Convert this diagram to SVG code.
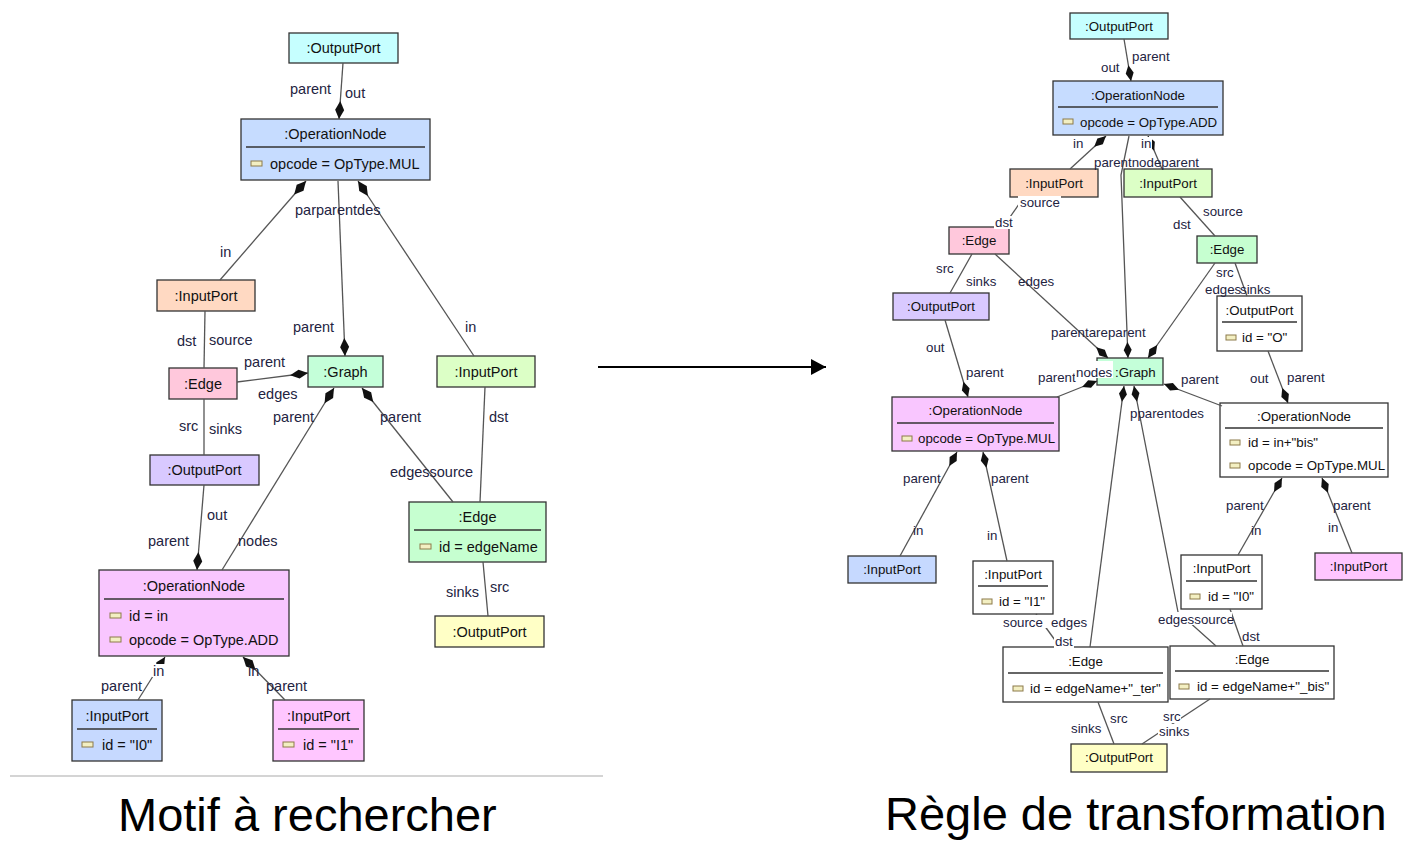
<svg xmlns="http://www.w3.org/2000/svg" width="1409" height="841" viewBox="0 0 1409 841">
<defs>
<style>
.n rect.b{stroke:#333;stroke-width:1.3}
.t{font-family:"Liberation Sans",Arial,sans-serif;font-size:14.5px;fill:#111}
.tr{font-family:"Liberation Sans",Arial,sans-serif;font-size:13.3px;fill:#111}
.m{text-anchor:middle}
.sep{stroke:#333;stroke-width:1.3}
.ic{fill:#f3efc2;stroke:#8c7a4a;stroke-width:1}
.c{stroke:#555;stroke-width:1.3;fill:none}
.dl{marker-end:url(#dl)}
.ds{marker-end:url(#ds)}
.l{font-family:"Liberation Sans",Arial,sans-serif;font-size:14.5px;fill:#23233f}
.lr{font-family:"Liberation Sans",Arial,sans-serif;font-size:13.3px;fill:#23233f}
.bg{fill:#fff}
.cap{font-family:"Liberation Sans",Arial,sans-serif;font-size:47px;fill:#000}
</style>
<marker id="dl" markerUnits="userSpaceOnUse" orient="auto" markerWidth="20" markerHeight="10" refX="0" refY="0" style="overflow:visible"><path d="M0,0 L-9,-4.5 L-18,0 L-9,4.5 Z" fill="#111"/></marker>
<marker id="ds" markerUnits="userSpaceOnUse" orient="auto" markerWidth="18" markerHeight="9" refX="0" refY="0" style="overflow:visible"><path d="M0,0 L-8,-4 L-16,0 L-8,4 Z" fill="#111"/></marker>
<marker id="ar" markerUnits="userSpaceOnUse" orient="auto" markerWidth="16" markerHeight="16" refX="0" refY="0" style="overflow:visible"><path d="M-15,-8 L0,0 L-15,8 Z" fill="#000"/></marker>
</defs>
<rect width="1409" height="841" fill="#fff"/>

<!-- LEFT NODES -->
<g id="L-OutputPort-top" class="n"><rect class="b" x="289" y="33" width="109" height="30" fill="#c6ffff"/><text class="t m" x="343.5" y="53">:OutputPort</text></g>
<g id="L-OperationNode-MUL" class="n"><rect class="b" x="241" y="119" width="189" height="61" fill="#c6dcff"/><text class="t m" x="335.5" y="139">:OperationNode</text><line class="sep" x1="246" y1="147" x2="425" y2="147"/><rect class="ic" x="251" y="161" width="11" height="5"/><text class="t" x="270" y="169">opcode = OpType.MUL</text></g>
<g id="L-InputPort-orange" class="n"><rect class="b" x="157" y="280" width="98" height="31" fill="#ffd9c2"/><text class="t m" x="206" y="301">:InputPort</text></g>
<g id="L-Edge-pink" class="n"><rect class="b" x="169" y="368" width="68" height="31" fill="#ffc8dc"/><text class="t m" x="203" y="389">:Edge</text></g>
<g id="L-Graph" class="n"><rect class="b" x="308" y="356" width="75" height="31" fill="#c4ffd9"/><text class="t m" x="345.5" y="377">:Graph</text></g>
<g id="L-InputPort-green" class="n"><rect class="b" x="437" y="356" width="98" height="31" fill="#dcffc6"/><text class="t m" x="486" y="377">:InputPort</text></g>
<g id="L-OutputPort-purple" class="n"><rect class="b" x="150" y="455" width="109" height="30" fill="#d9c9ff"/><text class="t m" x="204.5" y="475">:OutputPort</text></g>
<g id="L-OperationNode-ADD" class="n"><rect class="b" x="99" y="570" width="190" height="86" fill="#f9c6ff"/><text class="t m" x="194" y="591">:OperationNode</text><line class="sep" x1="104" y1="599" x2="284" y2="599"/><rect class="ic" x="110" y="613" width="11" height="5"/><text class="t" x="129" y="621">id = in</text><rect class="ic" x="110" y="637" width="11" height="5"/><text class="t" x="129" y="645">opcode = OpType.ADD</text></g>
<g id="L-Edge-green" class="n"><rect class="b" x="409" y="502" width="137" height="60" fill="#c6ffd0"/><text class="t m" x="477.5" y="522">:Edge</text><line class="sep" x1="414" y1="530" x2="541" y2="530"/><rect class="ic" x="420" y="544" width="11" height="5"/><text class="t" x="439" y="552">id = edgeName</text></g>
<g id="L-OutputPort-yellow" class="n"><rect class="b" x="435" y="616" width="109" height="31" fill="#ffffc6"/><text class="t m" x="489.5" y="637">:OutputPort</text></g>
<g id="L-InputPort-I0" class="n"><rect class="b" x="72" y="700" width="90" height="61" fill="#c6d9ff"/><text class="t m" x="117" y="721">:InputPort</text><line class="sep" x1="77" y1="729" x2="157" y2="729"/><rect class="ic" x="82" y="742" width="11" height="5"/><text class="t" x="102" y="750">id = "I0"</text></g>
<g id="L-InputPort-I1" class="n"><rect class="b" x="273" y="700" width="91" height="61" fill="#ffc6ff"/><text class="t m" x="318.5" y="721">:InputPort</text><line class="sep" x1="278" y1="729" x2="359" y2="729"/><rect class="ic" x="283" y="742" width="11" height="5"/><text class="t" x="303" y="750">id = "I1"</text></g>

<!-- RIGHT NODES -->
<g id="R-OutputPort-top" class="n"><rect class="b" x="1070" y="13" width="98" height="26" fill="#c6ffff"/><text class="tr m" x="1119" y="31">:OutputPort</text></g>
<g id="R-OperationNode-ADD" class="n"><rect class="b" x="1053" y="81" width="170" height="54" fill="#c6dcff"/><text class="tr m" x="1138" y="99.5">:OperationNode</text><line class="sep" x1="1058" y1="107" x2="1218" y2="107"/><rect class="ic" x="1063" y="119" width="10" height="5"/><text class="tr" x="1080" y="126.5">opcode = OpType.ADD</text></g>
<g id="R-InputPort-orange" class="n"><rect class="b" x="1010" y="169" width="88" height="28" fill="#ffd9c2"/><text class="tr m" x="1054" y="188">:InputPort</text></g>
<g id="R-InputPort-green" class="n"><rect class="b" x="1124" y="169" width="88" height="28" fill="#dcffc6"/><text class="tr m" x="1168" y="188">:InputPort</text></g>
<g id="R-Edge-pink" class="n"><rect class="b" x="949" y="227" width="60" height="27" fill="#ffc8dc"/><text class="tr m" x="979" y="245">:Edge</text></g>
<g id="R-Edge-green" class="n"><rect class="b" x="1197" y="236" width="60" height="27" fill="#c6ffd0"/><text class="tr m" x="1227" y="254">:Edge</text></g>
<g id="R-OutputPort-purple" class="n"><rect class="b" x="893" y="293" width="96" height="27" fill="#d9c9ff"/><text class="tr m" x="941" y="311">:OutputPort</text></g>
<g id="R-OutputPort-O" class="n"><rect class="b" x="1217" y="296" width="85" height="55" fill="#fff"/><text class="tr m" x="1259.5" y="314.5">:OutputPort</text><line class="sep" x1="1222" y1="322" x2="1297" y2="322"/><rect class="ic" x="1226" y="335" width="10" height="5"/><text class="tr" x="1242" y="341.5">id = "O"</text></g>
<g id="R-Graph" class="n"><rect class="b" x="1097" y="358" width="66" height="27" fill="#c4ffd9"/><text class="tr" x="1115" y="376.5">:Graph</text></g>
<g id="R-OperationNode-MUL" class="n"><rect class="b" x="892" y="397" width="167" height="54" fill="#f9c6ff"/><text class="tr m" x="975.5" y="414.5">:OperationNode</text><line class="sep" x1="897" y1="423" x2="1054" y2="423"/><rect class="ic" x="902" y="436" width="10" height="5"/><text class="tr" x="918" y="442.5">opcode = OpType.MUL</text></g>
<g id="R-OperationNode-bis" class="n"><rect class="b" x="1220" y="403" width="168" height="74" fill="#fff"/><text class="tr m" x="1304" y="420.5">:OperationNode</text><line class="sep" x1="1225" y1="428" x2="1383" y2="428"/><rect class="ic" x="1230" y="440" width="10" height="5"/><text class="tr" x="1248" y="446.5">id = in+"bis"</text><rect class="ic" x="1230" y="463" width="10" height="5"/><text class="tr" x="1248" y="469.5">opcode = OpType.MUL</text></g>
<g id="R-InputPort-blue" class="n"><rect class="b" x="848" y="556" width="88" height="27" fill="#c6d9ff"/><text class="tr m" x="892" y="574">:InputPort</text></g>
<g id="R-InputPort-I1" class="n"><rect class="b" x="973" y="561" width="80" height="53" fill="#fff"/><text class="tr m" x="1013" y="578.5">:InputPort</text><line class="sep" x1="978" y1="586" x2="1048" y2="586"/><rect class="ic" x="982" y="599" width="10" height="5"/><text class="tr" x="999" y="605.5">id = "I1"</text></g>
<g id="R-InputPort-I0" class="n"><rect class="b" x="1181" y="555" width="81" height="54" fill="#fff"/><text class="tr m" x="1221.5" y="572.5">:InputPort</text><line class="sep" x1="1186" y1="581" x2="1257" y2="581"/><rect class="ic" x="1190" y="594" width="10" height="5"/><text class="tr" x="1208" y="600.5">id = "I0"</text></g>
<g id="R-InputPort-pink" class="n"><rect class="b" x="1315" y="553" width="87" height="27" fill="#ffc6ff"/><text class="tr m" x="1358.5" y="571">:InputPort</text></g>
<g id="R-Edge-ter" class="n"><rect class="b" x="1003" y="647" width="165" height="55" fill="#fff"/><text class="tr m" x="1085.5" y="665.5">:Edge</text><line class="sep" x1="1008" y1="673" x2="1163" y2="673"/><rect class="ic" x="1013" y="686" width="10" height="5"/><text class="tr" x="1030" y="692.5">id = edgeName+"_ter"</text></g>
<g id="R-Edge-bis" class="n"><rect class="b" x="1170" y="646" width="164" height="53" fill="#fff"/><text class="tr m" x="1252" y="663.5">:Edge</text><line class="sep" x1="1175" y1="671" x2="1329" y2="671"/><rect class="ic" x="1179" y="684" width="10" height="5"/><text class="tr" x="1197" y="690.5">id = edgeName+"_bis"</text></g>
<g id="R-OutputPort-yellow" class="n"><rect class="b" x="1071" y="744" width="96" height="28" fill="#ffffc6"/><text class="tr m" x="1119" y="762">:OutputPort</text></g>

<!-- CONNECTORS -->
<g id="connectors">
<!-- left -->
<line class="c dl" x1="343" y1="63" x2="339" y2="119"/>
<line class="c dl" x1="220" y1="280" x2="306" y2="181"/>
<line class="c dl" x1="338" y1="181" x2="345" y2="356"/>
<line class="c dl" x1="474" y1="356" x2="358" y2="181"/>
<line class="c" x1="205" y1="311" x2="204" y2="368"/>
<line class="c dl" x1="237" y1="382" x2="308" y2="373"/>
<line class="c" x1="204" y1="399" x2="204" y2="455"/>
<line class="c dl" x1="204" y1="485" x2="197" y2="570"/>
<line class="c dl" x1="222" y1="570" x2="334" y2="388"/>
<line class="c dl" x1="453" y1="502" x2="362" y2="388"/>
<line class="c" x1="485" y1="387" x2="480" y2="502"/>
<line class="c" x1="483" y1="562" x2="488" y2="616"/>
<line class="c dl" x1="138" y1="700" x2="165" y2="657"/>
<line class="c dl" x1="285" y1="700" x2="243" y2="657"/>
<text class="l" x="290" y="94">parent</text>
<text class="l" x="345" y="98">out</text>
<text class="l" x="295" y="215">parparentdes</text>
<text class="l" x="220" y="257">in</text>
<text class="l" x="177" y="346">dst</text>
<text class="l" x="209" y="345">source</text>
<text class="l" x="293" y="332">parent</text>
<text class="l" x="465" y="332">in</text>
<text class="l" x="244" y="367">parent</text>
<text class="l" x="258" y="399">edges</text>
<text class="l" x="179" y="431">src</text>
<text class="l" x="209" y="434">sinks</text>
<text class="l" x="273" y="422">parent</text>
<text class="l" x="380" y="422">parent</text>
<text class="l" x="489" y="422">dst</text>
<text class="l" x="390" y="477">edgessource</text>
<text class="l" x="207" y="520">out</text>
<text class="l" x="148" y="546">parent</text>
<text class="l" x="238" y="546">nodes</text>
<text class="l" x="446" y="597">sinks</text>
<text class="l" x="490" y="592">src</text>
<rect class="bg" x="152" y="664" width="14" height="13"/>
<text class="l" x="153" y="676">in</text>
<text class="l" x="101" y="691">parent</text>
<text class="l" x="248" y="676">in</text>
<text class="l" x="266" y="691">parent</text>

<!-- right -->
<line class="c ds" x1="1124" y1="39" x2="1131" y2="81"/>
<line class="c ds" x1="1070" y1="169" x2="1106" y2="136"/>
<line class="c ds" x1="1162" y1="169" x2="1148" y2="136"/>
<polyline class="c ds" points="1129,136 1121,175 1128,358"/>
<line class="c" x1="1024" y1="197" x2="1003" y2="227"/>
<line class="c" x1="972" y1="254" x2="950" y2="293"/>
<line class="c ds" x1="995" y1="254" x2="1108" y2="358"/>
<line class="c" x1="1180" y1="197" x2="1215" y2="236"/>
<line class="c ds" x1="1215" y1="263" x2="1148" y2="358"/>
<line class="c" x1="1235" y1="263" x2="1247" y2="296"/>
<line class="c ds" x1="945" y1="320" x2="968" y2="397"/>
<line class="c ds" x1="1057" y1="397" x2="1097" y2="381"/>
<line class="c ds" x1="1222" y1="406" x2="1164" y2="384"/>
<line class="c ds" x1="1268" y1="351" x2="1288" y2="403"/>
<line class="c ds" x1="1090" y1="647" x2="1124" y2="386"/>
<polyline class="c ds" points="1216,646 1178,612 1134,386"/>
<line class="c ds" x1="900" y1="556" x2="957" y2="452"/>
<line class="c ds" x1="1007" y1="561" x2="983" y2="452"/>
<line class="c" x1="1036" y1="614" x2="1060" y2="647"/>
<line class="c" x1="1098" y1="702" x2="1114" y2="744"/>
<line class="c" x1="1210" y1="699" x2="1142" y2="744"/>
<line class="c ds" x1="1238" y1="555" x2="1282" y2="478"/>
<line class="c ds" x1="1352" y1="553" x2="1322" y2="478"/>
<line class="c" x1="1230" y1="609" x2="1243" y2="646"/>

<text class="lr" x="1101" y="71.5">out</text>
<text class="lr" x="1132" y="60.5">parent</text>
<rect class="bg" x="1072" y="137" width="12" height="13"/>
<text class="lr" x="1073" y="147.5">in</text>
<rect class="bg" x="1140" y="137" width="12" height="13"/>
<text class="lr" x="1141" y="147.5">in</text>
<text class="lr" x="1094" y="166.5">parentnodeparent</text>
<rect class="bg" x="1018" y="196" width="43" height="13"/>
<text class="lr" x="1020" y="206.5">source</text>
<text class="lr" x="1203" y="215.5">source</text>
<text class="lr" x="1173" y="228.5">dst</text>
<rect class="bg" x="994" y="216" width="20" height="13"/>
<text class="lr" x="995" y="226.5">dst</text>
<text class="lr" x="936" y="272.5">src</text>
<text class="lr" x="966" y="285.5">sinks</text>
<text class="lr" x="1018" y="285.5">edges</text>
<rect class="bg" x="1215" y="266" width="19" height="13"/>
<text class="lr" x="1216" y="276.5">src</text>
<text class="lr" x="1205" y="294">edges</text>
<text class="lr" x="1240" y="294">sinks</text>
<text class="lr" x="1051" y="336.5">parentareparent</text>
<text class="lr" x="926" y="351.5">out</text>
<text class="lr" x="966" y="376.5">parent</text>
<text class="lr" x="1038" y="381.5">parent</text>
<rect class="bg" x="1075" y="361" width="38" height="17"/>
<text class="lr" x="1076" y="376.5">nodes</text>
<text class="lr" x="1181" y="383.5">parent</text>
<text class="lr" x="1130" y="417.5">pparentodes</text>
<text class="lr" x="1250" y="382.5">out</text>
<text class="lr" x="1287" y="381.5">parent</text>
<text class="lr" x="903" y="482.5">parent</text>
<text class="lr" x="991" y="482.5">parent</text>
<text class="lr" x="913" y="534.5">in</text>
<text class="lr" x="987" y="539.5">in</text>
<text class="lr" x="1226" y="510">parent</text>
<text class="lr" x="1251" y="534.5">in</text>
<text class="lr" x="1333" y="510">parent</text>
<text class="lr" x="1328" y="531.5">in</text>
<rect class="bg" x="1002" y="615" width="84" height="13"/>
<text class="lr" x="1003" y="626.5">source</text>
<text class="lr" x="1051" y="626.5">edges</text>
<rect class="bg" x="1054" y="635" width="20" height="13"/>
<text class="lr" x="1055" y="645.5">dst</text>
<rect class="bg" x="1157" y="612" width="75" height="13"/>
<text class="lr" x="1158" y="624">edgessource</text>
<text class="lr" x="1242" y="640.5">dst</text>
<text class="lr" x="1071" y="733">sinks</text>
<text class="lr" x="1110" y="723">src</text>
<rect class="bg" x="1158" y="724" width="29" height="13"/>
<text class="lr" x="1159" y="736">sinks</text>
<rect class="bg" x="1162" y="710" width="19" height="13"/>
<text class="lr" x="1163" y="720.5">src</text>
</g>

<g id="separator"><line x1="10" y1="776" x2="603" y2="776" stroke="#d4d4d4" stroke-width="2"/></g>
<g id="transition-arrow"><line x1="598" y1="367" x2="826" y2="367" stroke="#000" stroke-width="2" marker-end="url(#ar)"/></g>
<text class="cap" x="118" y="831">Motif à rechercher</text>
<text class="cap" x="885" y="830">Règle de transformation</text>
</svg>
